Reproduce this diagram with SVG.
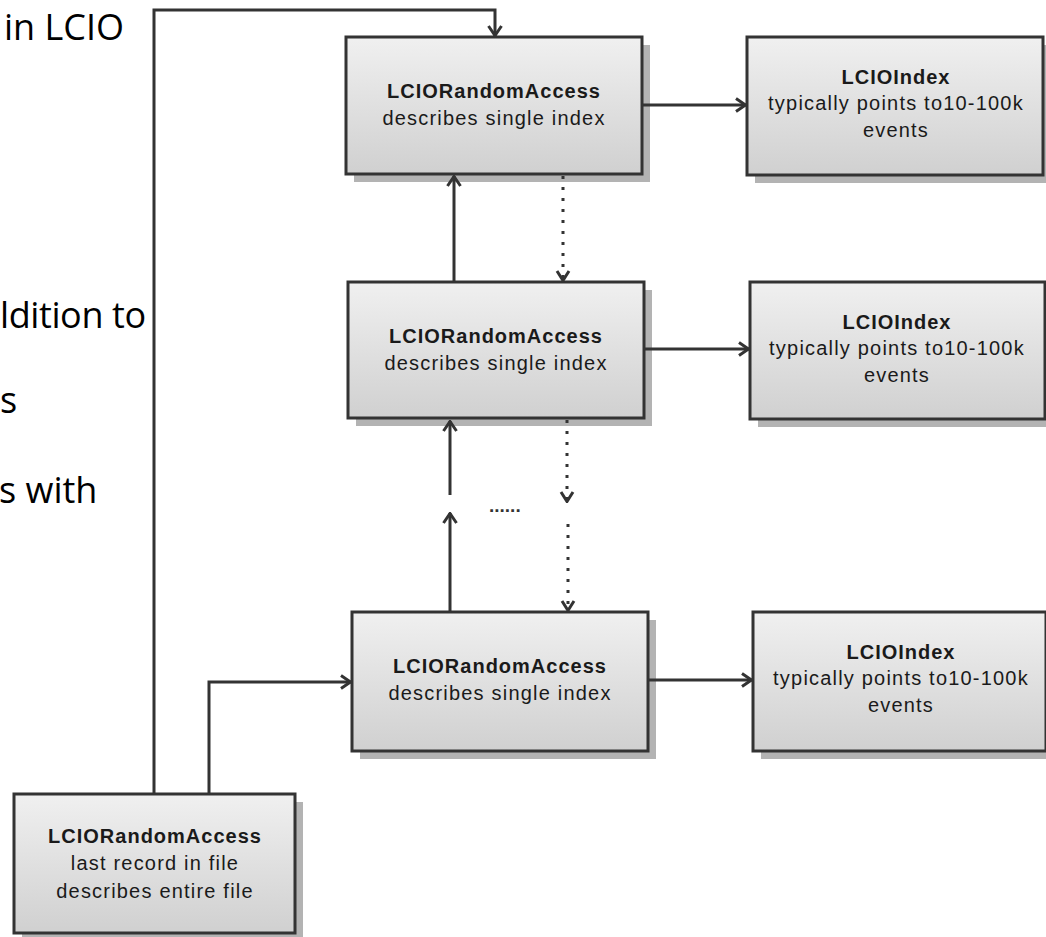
<svg xmlns="http://www.w3.org/2000/svg" width="1046" height="937" viewBox="0 0 1046 937">
<style>
.slide{font-family:"Open Sans","Noto Sans",sans-serif;font-size:36px;fill:#000}
.shadow{fill:#b3b3b3}
.box{fill:url(#grad);stroke:#333;stroke-width:3}
.t{font-family:"Liberation Sans",Arial,sans-serif;font-size:20px;fill:#1a1a1a;text-anchor:middle}
.b{font-weight:bold;letter-spacing:1px}
.r{letter-spacing:1.2px}
.c{fill:none;stroke:#333;stroke-width:3}
.d{fill:none;stroke:#333;stroke-width:3;stroke-dasharray:3 8}
.dots{font-family:"Liberation Sans",Arial,sans-serif;font-size:19px;font-weight:bold;fill:#333}
</style>
<defs>
<linearGradient id="grad" x1="0" y1="0" x2="0" y2="1">
<stop offset="0" stop-color="#f0f0f0"/>
<stop offset="1" stop-color="#d0d0d0"/>
</linearGradient>
<marker id="arr" markerUnits="userSpaceOnUse" viewBox="0 0 12 16" refX="11" refY="8" markerWidth="12" markerHeight="16" orient="auto">
<path d="M1,1.5 L10.5,8 L1,14.5" fill="none" stroke="#333" stroke-width="3"/>
</marker>
<marker id="arrd" markerUnits="userSpaceOnUse" viewBox="0 0 12 16" refX="11" refY="8" markerWidth="12" markerHeight="16" orient="auto">
<path d="M1,2 L10.5,8 L1,14" fill="none" stroke="#333" stroke-width="3"/>
</marker>
</defs>
<rect width="1046" height="937" fill="#fff"/>

<g id="slide-text">
<text class="slide" x="4" y="40">in LCIO</text>
<text class="slide" x="0" y="328" letter-spacing="-0.4">ldition to</text>
<text class="slide" x="0" y="413">s</text>
<text class="slide" x="-1" y="503">s with</text>
</g>

<g id="ra1">
<rect class="shadow" x="354" y="45" width="296" height="137"/>
<rect class="box" x="346" y="37" width="296" height="137"/>
<text class="t b" x="494" y="98">LCIORandomAccess</text>
<text class="t r" x="494" y="125">describes single index</text>
</g>
<g id="idx1">
<rect class="shadow" x="755" y="45" width="296" height="138"/>
<rect class="box" x="747" y="37" width="296" height="138"/>
<text class="t b" x="896" y="84">LCIOIndex</text>
<text class="t r" x="896" y="110">typically points to10-100k</text>
<text class="t r" x="896" y="137">events</text>
</g>
<g id="ra2">
<rect class="shadow" x="356" y="290" width="296" height="136"/>
<rect class="box" x="348" y="282" width="296" height="136"/>
<text class="t b" x="496" y="343">LCIORandomAccess</text>
<text class="t r" x="496" y="370">describes single index</text>
</g>
<g id="idx2">
<rect class="shadow" x="758" y="290" width="295" height="137"/>
<rect class="box" x="750" y="282" width="295" height="137"/>
<text class="t b" x="897" y="329">LCIOIndex</text>
<text class="t r" x="897" y="355">typically points to10-100k</text>
<text class="t r" x="897" y="382">events</text>
</g>
<g id="ra3">
<rect class="shadow" x="360" y="620" width="296" height="139"/>
<rect class="box" x="352" y="612" width="296" height="139"/>
<text class="t b" x="500" y="673">LCIORandomAccess</text>
<text class="t r" x="500" y="700">describes single index</text>
</g>
<g id="idx3">
<rect class="shadow" x="761" y="620" width="293" height="139"/>
<rect class="box" x="753" y="612" width="293" height="139"/>
<text class="t b" x="901" y="659">LCIOIndex</text>
<text class="t r" x="901" y="685">typically points to10-100k</text>
<text class="t r" x="901" y="712">events</text>
</g>
<g id="ra-last">
<rect class="shadow" x="22" y="802" width="281" height="139"/>
<rect class="box" x="14" y="794" width="281" height="139"/>
<text class="t b" x="155" y="843">LCIORandomAccess</text>
<text class="t r" x="155" y="870">last record in file</text>
<text class="t r" x="155" y="898">describes entire file</text>
</g>

<g id="connectors">
<path class="c" d="M154,794 V10 H495 V36" marker-end="url(#arr)"/>
<path class="c" d="M209,794 V682 H351" marker-end="url(#arr)"/>
<path class="c" d="M642,105 H746" marker-end="url(#arr)"/>
<path class="c" d="M644,349 H749" marker-end="url(#arr)"/>
<path class="c" d="M648,680 H752" marker-end="url(#arr)"/>
<path class="c" d="M454,282 V176" marker-end="url(#arr)"/>
<path class="d" d="M563,176 V281" marker-end="url(#arrd)"/>
<path class="c" d="M450,495 V421" marker-end="url(#arr)"/>
<path class="c" d="M450,612 V513" marker-end="url(#arr)"/>
<path class="d" d="M567,420 V502" marker-end="url(#arrd)"/>
<path class="d" d="M568,524 V611" marker-end="url(#arrd)"/>
<text class="dots" x="489" y="512">......</text>
</g>
</svg>
